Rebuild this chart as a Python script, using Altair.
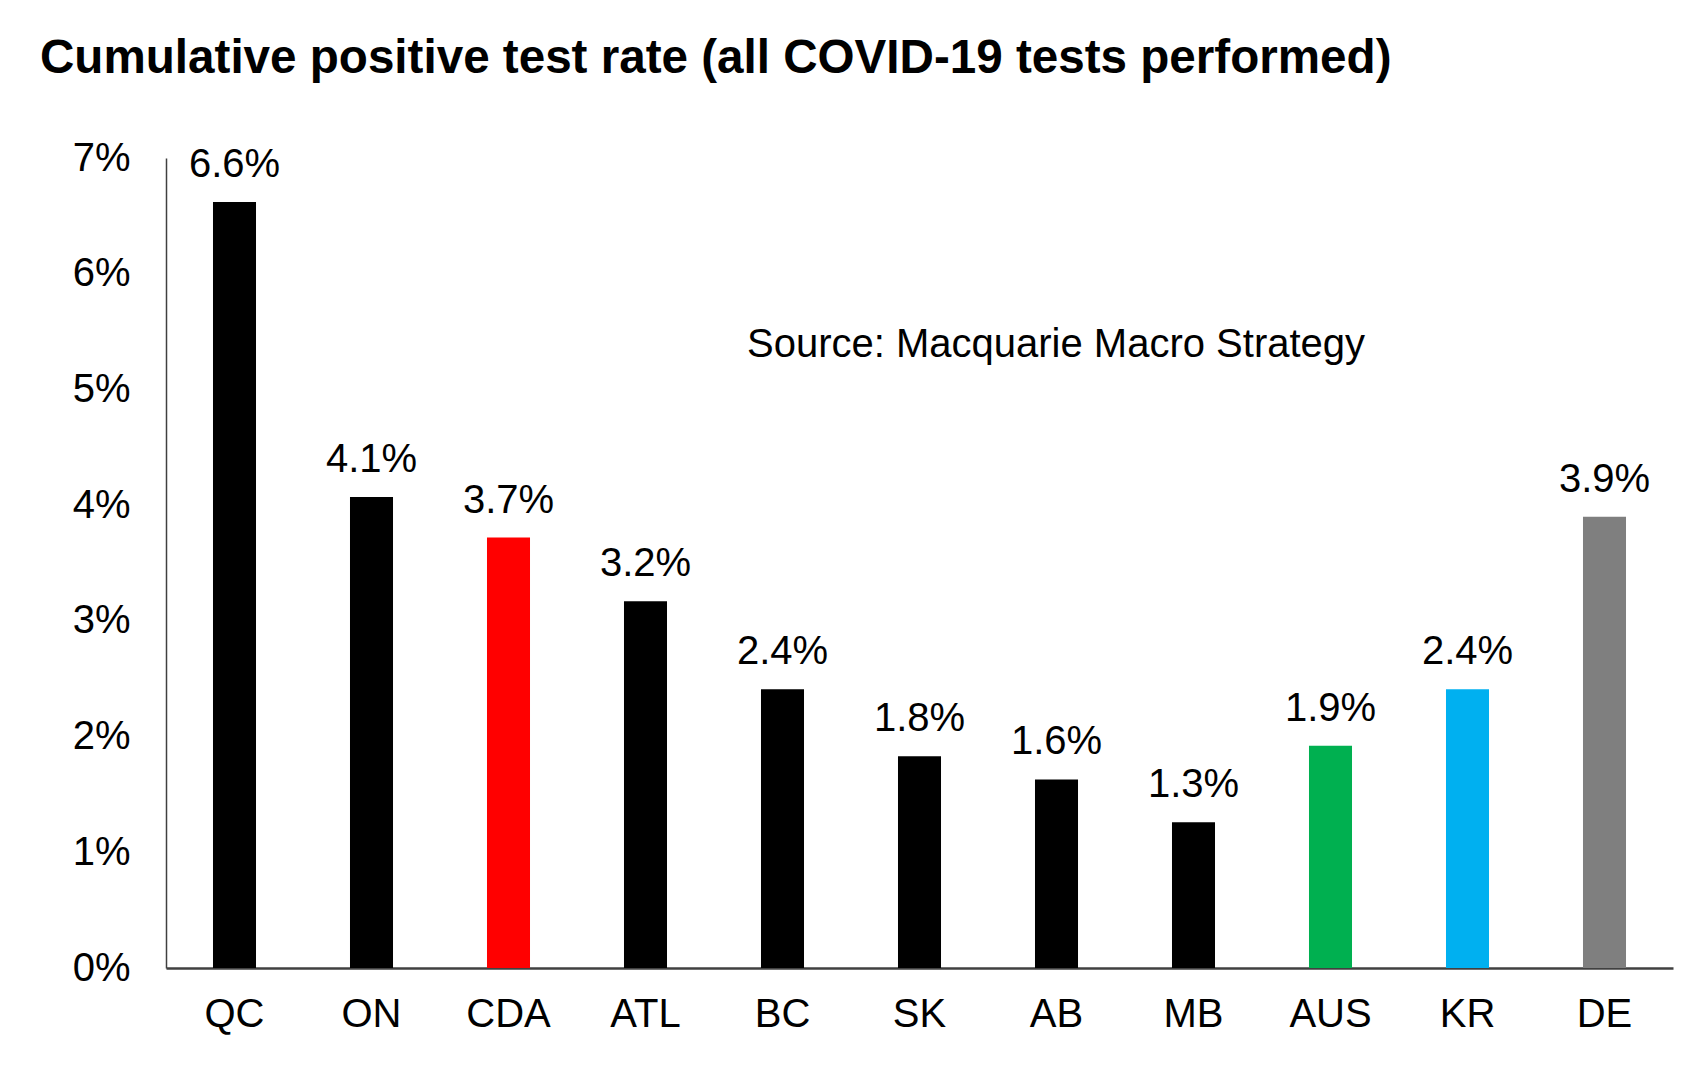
import altair as alt
import pandas as pd

# values (percent)
regions = ["QC", "ON", "CDA", "ATL", "BC", "SK", "AB", "MB", "AUS", "KR", "DE"]
rates = [6.62, 4.07, 3.72, 3.17, 2.41, 1.83, 1.63, 1.26, 1.92, 2.41, 3.9]
bar_colors = ["#000000", "#000000", "#FF0000", "#000000", "#000000", "#000000",
              "#000000", "#000000", "#00B050", "#00B0F0", "#7F7F7F"]
y_ticks = [0, 1, 2, 3, 4, 5, 6, 7]

df = pd.DataFrame({"region": regions, "rate": rates, "color": bar_colors})

font = "Liberation Sans"

base = alt.Chart(df).encode(
    x=alt.X("region:N", sort=regions,
            scale=alt.Scale(paddingInner=0.686, paddingOuter=0.343),
            axis=alt.Axis(title=None, labelAngle=0, ticks=False, labelPadding=26,
                          labelFont=font, labelFontSize=40, labelColor="#000000",
                          domainColor="#404040", domainWidth=2.5)),
    y=alt.Y("rate:Q", scale=alt.Scale(domain=[0, 7], nice=False),
            axis=alt.Axis(title=None, values=y_ticks, ticks=False, grid=False,
                          labelExpr="datum.value + '%'", labelPadding=36,
                          labelFont=font, labelFontSize=40, labelColor="#000000",
                          domainColor="#404040", domainWidth=1.5))
)

bars = base.mark_bar().encode(color=alt.Color("color:N", scale=None))

labels = base.transform_calculate(
    label="format(datum.rate, '.1f') + '%'"
).mark_text(font=font, fontSize=40, color="#000000",
            baseline="alphabetic", dy=-25).encode(text="label:N")

source = alt.Chart(df).mark_text(font=font, fontSize=40, color="#000000",
                                 align="left", baseline="alphabetic").encode(
    x=alt.value(581), y=alt.value(199), text=alt.value("Source: Macquarie Macro Strategy")
).transform_filter(alt.datum.region == "QC")

chart = (bars + labels + source).properties(
    width=1507,
    height=810,
    padding={"left": 158, "top": 150, "right": 25, "bottom": 95},
    autosize=alt.AutoSizeParams(type="none"),
    title=alt.TitleParams(
        "Cumulative positive test rate (all COVID-19 tests performed)",
        anchor="start", frame="group", font=font, fontSize=47.6, fontWeight="bold",
        color="#000000", baseline="alphabetic", dx=-126, offset=17
    )
).configure_view(stroke=None)

chart.save("out.html", embed_options={"renderer": "svg", "actions": False})
